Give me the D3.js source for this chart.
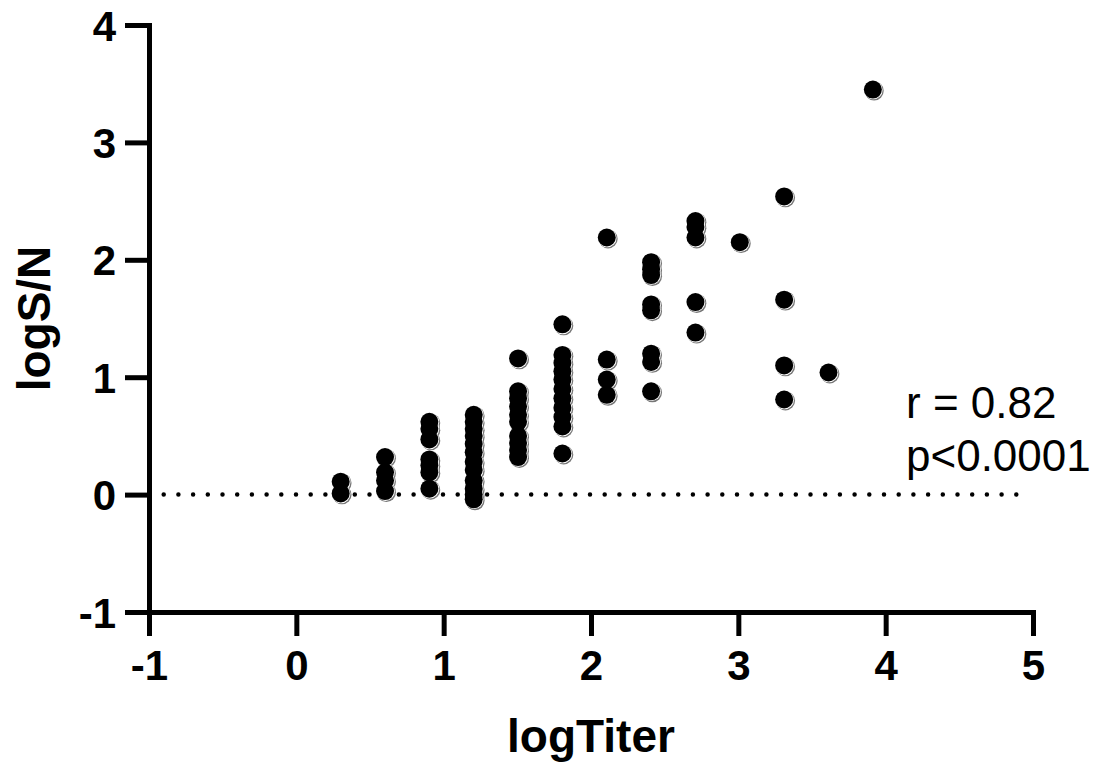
<!DOCTYPE html>
<html>
<head>
<meta charset="utf-8">
<script src="https://cdn.jsdelivr.net/npm/d3@7"></script>
<style>
  html, body { margin: 0; padding: 0; background: #fff; }
  svg { display: block; font-family: "Liberation Sans", Arial, sans-serif; }
</style>
</head>
<body>
<div id="chart"></div>
<script>
// data (x = log10 titer, y = log S/N)
var logTiter = [
  0.301, 0.301,
  0.602, 0.602, 0.602, 0.602,
  0.903, 0.903, 0.903, 0.903, 0.903, 0.903, 0.903,
  1.204, 1.204, 1.204, 1.204, 1.204, 1.204, 1.204, 1.204, 1.204, 1.204, 1.204, 1.204,
  1.505, 1.505, 1.505, 1.505, 1.505, 1.505, 1.505, 1.505, 1.505, 1.505,
  1.806, 1.806, 1.806, 1.806, 1.806, 1.806, 1.806, 1.806, 1.806, 1.806, 1.806,
  2.107, 2.107, 2.107, 2.107,
  2.408, 2.408, 2.408, 2.408, 2.408, 2.408, 2.408, 2.408,
  2.709, 2.709, 2.709, 2.709, 2.709,
  3.010,
  3.311, 3.311, 3.311, 3.311,
  3.612,
  3.913
];
var logSN = [
  0.11, 0.01,
  0.32, 0.19, 0.12, 0.03,
  0.62, 0.56, 0.47, 0.30, 0.25, 0.19, 0.05,
  0.68, 0.62, 0.56, 0.50, 0.43, 0.36, 0.28, 0.21, 0.12, 0.05, 0.00, -0.04,
  1.16, 0.88, 0.82, 0.75, 0.68, 0.62, 0.50, 0.44, 0.38, 0.32,
  1.45, 1.19, 1.12, 1.05, 0.98, 0.90, 0.82, 0.74, 0.66, 0.58, 0.35,
  2.19, 1.15, 0.98, 0.85,
  1.98, 1.92, 1.87, 1.62, 1.57, 1.20, 1.13, 0.88,
  2.33, 2.28, 2.19, 1.64, 1.38,
  2.15,
  2.54, 1.66, 1.10, 0.81,
  1.04,
  3.45
];
var xTicks = [-1, 0, 1, 2, 3, 4, 5];
var yTicks = [-1, 0, 1, 2, 3, 4];
var refLineX = [-1, 4.9];   // dotted line at y = 0
var statsText = ['r = 0.82', 'p<0.0001'];

var W = 1109, H = 763;
var margin = { top: 25, right: 76, bottom: 151, left: 149 };

var svg = d3.select('#chart').append('svg')
  .attr('width', W)
  .attr('height', H);

var x = d3.scaleLinear().domain([-1, 5]).range([margin.left, W - margin.right]);
var y = d3.scaleLinear().domain([-1, 4]).range([H - margin.bottom, margin.top]);

var pts = logTiter.map(function (t, i) { return { x: t, y: logSN[i] }; });

// plain hyphen for negatives, like the original
var fmt = function (d) { return String(d); };

// dotted zero line
svg.append('line')
  .attr('x1', x(refLineX[0])).attr('x2', x(refLineX[1]))
  .attr('y1', y(0)).attr('y2', y(0))
  .attr('stroke', '#000')
  .attr('stroke-width', 4.5)
  .attr('stroke-linecap', 'round')
  .attr('stroke-dasharray', '0 14.7');

// axes
var xAxis = svg.append('g')
  .attr('transform', 'translate(0,' + y(-1) + ')')
  .call(d3.axisBottom(x).tickValues(xTicks).tickSize(24).tickSizeOuter(0).tickPadding(14).tickFormat(fmt));

var yAxis = svg.append('g')
  .attr('transform', 'translate(' + x(-1) + ',0)')
  .call(d3.axisLeft(y).tickValues(yTicks).tickSize(24).tickSizeOuter(0).tickPadding(9).tickFormat(fmt));

[xAxis, yAxis].forEach(function (g) {
  g.select('.domain').attr('stroke', '#000').attr('stroke-width', 5).attr('stroke-linecap', 'square');
  g.selectAll('.tick line').attr('stroke', '#000').attr('stroke-width', 5);
  g.selectAll('.tick text')
    .attr('fill', '#000')
    .style('font-family', '"Liberation Sans", Arial, sans-serif')
    .style('font-weight', 'bold')
    .style('font-size', '42px');
});
yAxis.selectAll('.tick text').attr('dy', '0.36em');

// points: grey offset edge, white ring, black dot
var r = 9;
var dots = svg.append('g');
dots.selectAll('circle.shadow')
  .data(pts).enter().append('circle')
  .attr('class', 'shadow')
  .attr('cx', function (d) { return x(d.x) + 1.3; })
  .attr('cy', function (d) { return y(d.y) + 1.3; })
  .attr('r', r + 0.6)
  .attr('fill', '#777');
dots.selectAll('circle.ring')
  .data(pts).enter().append('circle')
  .attr('class', 'ring')
  .attr('cx', function (d) { return x(d.x) + 0.4; })
  .attr('cy', function (d) { return y(d.y) + 0.4; })
  .attr('r', r + 0.4)
  .attr('fill', '#fff');
dots.selectAll('circle.dot')
  .data(pts).enter().append('circle')
  .attr('class', 'dot')
  .attr('cx', function (d) { return x(d.x); })
  .attr('cy', function (d) { return y(d.y); })
  .attr('r', r)
  .attr('fill', '#000');

// axis titles
svg.append('text')
  .attr('x', (x(-1) + x(5)) / 2)
  .attr('y', 752)
  .attr('text-anchor', 'middle')
  .style('font-weight', 'bold')
  .style('font-size', '46px')
  .text('logTiter');

svg.append('text')
  .attr('transform', 'translate(50,' + ((y(-1) + y(4)) / 2) + ') rotate(-90)')
  .attr('text-anchor', 'middle')
  .style('font-weight', 'bold')
  .style('font-size', '46px')
  .text('logS/N');

// stats annotation
statsText.forEach(function (t, i) {
  svg.append('text')
    .attr('x', 906)
    .attr('y', 418 + i * 53)
    .style('font-size', '44px')
    .text(t);
});
</script>
</body>
</html>
